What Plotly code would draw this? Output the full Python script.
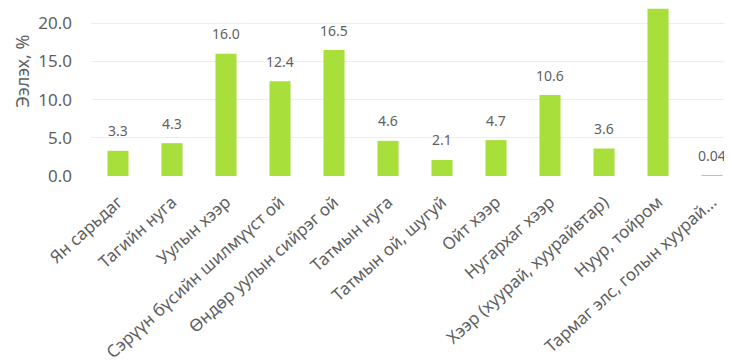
import plotly.graph_objects as go

categories = [
    "Ян сарьдаг", "Тагийн нуга", "Уулын хээр", "Сэрүүн бүсийн шилмүүст ой",
    "Өндөр уулын сийрэг ой", "Татмын нуга", "Татмын ой, шугуй", "Ойт хээр",
    "Нугархаг хээр", "Хээр (хуурай, хуурайвтар)", "Нуур, тойром",
    "Тармаг элс, голын хуурай...",
]
values = [3.3, 4.3, 16.0, 12.4, 16.5, 4.6, 2.1, 4.7, 10.6, 3.6, 21.9, 0.04]
value_labels = ["3.3", "4.3", "16.0", "12.4", "16.5", "4.6", "2.1", "4.7",
                "10.6", "3.6", "21.9", "0.04"]
y_ticks = [0, 5, 10, 15, 20]
y_tick_labels = ["0.0", "5.0", "10.0", "15.0", "20.0"]
y_max = 22.0

FONT = "Noto Sans"
GRAY = "#5f5f5f"

fig = go.Figure(go.Bar(
    x=categories, y=values,
    marker=dict(color="#a8df3a", line=dict(width=0)),
    cliponaxis=True,
))

# value labels above bars (the tallest bar's label lies beyond the cropped top)
for c, v, t in zip(categories, values, value_labels):
    if v < 20:
        fig.add_annotation(x=c, y=v, text=t, showarrow=False, yanchor="middle",
                           yshift=20, font=dict(family=FONT, size=14, color=GRAY))

fig.add_annotation(
    text="Ээлэх, %", textangle=-90, showarrow=False,
    xref="paper", yref="paper", x=0, y=0.62, xanchor="left", yanchor="middle",
    xshift=-83, font=dict(family=FONT, size=18, color=GRAY),
)

fig.update_layout(
    width=732, height=364,
    margin=dict(l=83, r=8, t=0, b=196),
    paper_bgcolor="white", plot_bgcolor="white",
    bargap=0.61, showlegend=False,
    font=dict(family=FONT, color=GRAY),
)
fig.update_xaxes(
    range=[-0.5, 11.37], tickangle=-42, showgrid=False, showline=False,
    ticks="", automargin=False, ticklabelstandoff=12,
    tickfont=dict(family=FONT, size=17, color=GRAY),
)
fig.update_yaxes(
    range=[0, y_max], tickvals=y_ticks, ticktext=y_tick_labels,
    showgrid=True, gridcolor="#e9eef0", gridwidth=1, zeroline=False,
    showline=False, ticks="", ticklabelstandoff=18, automargin=False,
    tickfont=dict(family=FONT, size=17, color=GRAY),
)

fig.write_html("out.html")
